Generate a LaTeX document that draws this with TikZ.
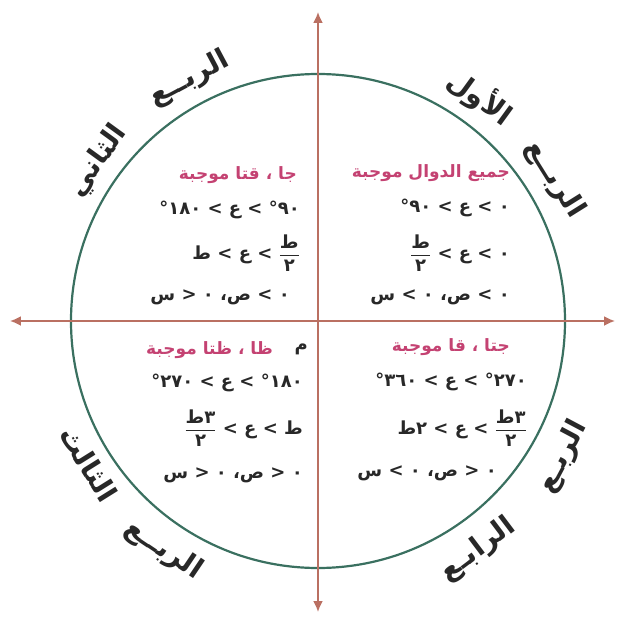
\documentclass[tikz,border=0pt]{standalone}
\usepackage{fontspec}
\usepackage{xcolor}
\usetikzlibrary{arrows.meta}
\TeXXeTstate=1
\newfontfamily\arabicfont[Script=Arabic]{DejaVu Sans}
\definecolor{axisred}{RGB}{186,112,98}
\definecolor{circlegreen}{RGB}{58,112,96}
\definecolor{headpink}{RGB}{196,66,114}
\definecolor{textgray}{RGB}{40,40,40}
% right-to-left line; the < > signs are given already mirrored
\newcommand{\ar}[1]{\beginR #1\endR}
\newcommand{\half}[1]{$\displaystyle\frac{\hbox{\arabicfont\bfseries\beginR #1\endR}}{\hbox{\arabicfont\bfseries ٢}}$}

\begin{document}
\begin{tikzpicture}[x=1pt,y=1pt,
    head/.style={font=\arabicfont\bfseries\fontsize{17}{19}\selectfont, text=headpink, anchor=east, inner sep=0pt},
    cond/.style={font=\arabicfont\bfseries\fontsize{18}{20}\selectfont, text=textgray, anchor=east, inner sep=0pt},
    quarter/.style={font=\arabicfont\bfseries\fontsize{28}{30}\selectfont, text=textgray, inner sep=0pt},
    axis/.style={draw=axisred, line width=1.8pt, {Latex[length=11pt,width=10pt]}-{Latex[length=11pt,width=10pt]}}
  ]
\useasboundingbox (-318,-298) rectangle (303,321);

% the circle and the two axes
\draw[circlegreen, line width=2.2pt] (0,0) circle (247);
\coordinate (top) at (0,309);
\coordinate (bottom) at (0,-291);
\coordinate (left) at (-308,0);
\coordinate (right) at (297,0);
\draw[axis] (left) -- (right);
\draw[axis] (bottom) -- (top);

% quarter names round the circle
\node[quarter, rotate=-36] (q1w1) at (54:276) {\ar{الأول}};
\node[quarter, rotate=-58] (q1w2) at (31:276) {\ar{الربــع}};
\node[quarter, rotate=28] (q2w1) at (118:274) {\ar{الربــع}};
\node[quarter, rotate=54] (q2w2) at (144:272) {\ar{الثاني}};
\node[quarter, rotate=-58] (q3w1) at (212:270) {\ar{الثالث}};
\node[quarter, rotate=-34] (q3w2) at (236:276) {\ar{الربــع}};
\node[quarter, rotate=37] (q4w1) at (305:279) {\ar{الرابـع}};
\node[quarter, rotate=62] (q4w2) at (331:280) {\ar{الربـع}};

% first quarter
\node[head] (q1head) at (192,148) {\ar{جميع الدوال موجبة}};
\node[cond] (q1a) at (192,113) {\ar{٠ > ع > ٩٠°}};
\node[cond] (q1b) at (192,68) {\ar{٠ > ع > \half{ط}}};
\node[cond] (q1c) at (192,24) {\ar{٠ > ص، ٠ > س}};

% second quarter
\node[head] (q2head) at (-21,146) {\ar{جا ، قتا موجبة}};
\node[cond] (q2a) at (-18,111) {\ar{٩٠° > ع > ١٨٠°}};
\node[cond] (q2b) at (-18,68) {\ar{\half{ط} > ع > ط}};
\node[cond] (q2c) at (-28,24) {\ar{٠ > ص، ٠ < س}};

% third quarter
\node[head] (q3head) at (-45,-29) {\ar{ظا ، ظتا موجبة}};
\node[cond] (q3mark) at (-10,-28) {\ar{م}};
\node[cond] (q3a) at (-15,-62) {\ar{١٨٠° > ع > ٢٧٠°}};
\node[cond] (q3b) at (-15,-107) {\ar{ط > ع > \half{٣ط}}};
\node[cond] (q3c) at (-15,-154) {\ar{٠ < ص، ٠ < س}};

% fourth quarter
\node[head] (q4head) at (192,-26) {\ar{جتا ، قا موجبة}};
\node[cond] (q4a) at (209,-61) {\ar{٢٧٠° > ع > ٣٦٠°}};
\node[cond] (q4b) at (209,-107) {\ar{\half{٣ط} > ع > ٢ط}};
\node[cond] (q4c) at (179,-152) {\ar{٠ < ص، ٠ > س}};
\end{tikzpicture}
\end{document}
